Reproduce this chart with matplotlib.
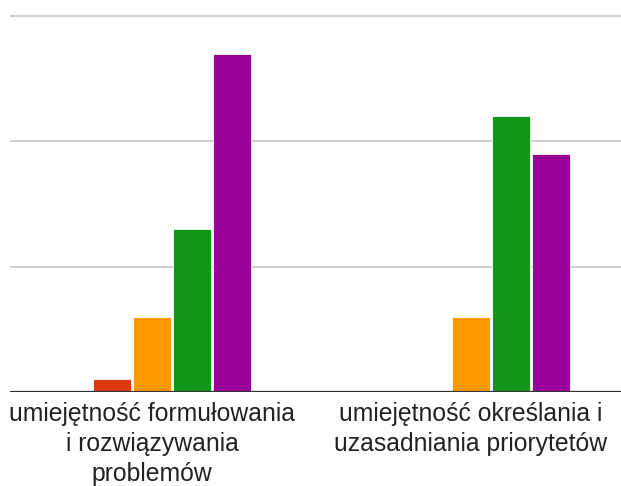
import matplotlib
matplotlib.use("Agg")
import matplotlib.pyplot as plt
import numpy as np

categories = ["umiejętność formułowania\ni rozwiązywania\nproblemów",
              "umiejętność określania i\nuzasadniania priorytetów"]
series_names = ["s1", "s2", "s3", "s4", "s5"]
series_colors = ["#3366cc", "#dc3912", "#ff9900", "#109618", "#990099"]
values = [
    [0, 0],    # blue
    [1, 0],    # red
    [6, 6],    # orange
    [13, 22],  # green
    [27, 19],  # purple
]
grid_ticks = [0, 10, 20, 30]

W, H = 621, 486
fig = plt.figure(figsize=(W / 100, H / 100), dpi=100)
left_px, right_px, top_px, base_px = 10, 621, 0, 392
ax = fig.add_axes([left_px / W, 1 - base_px / H, (right_px - left_px) / W, (base_px - top_px) / H])

px_per_cat = 319.0
xmin = -(152.0 - left_px) / px_per_cat
xmax = xmin + (right_px - left_px) / px_per_cat
ax.set_xlim(xmin, xmax)
px_per_unit = 12.525
ax.set_ylim(0, (base_px - top_px) / px_per_unit)

x = np.arange(len(categories))
period = 40 / px_per_cat
bw = 38 / px_per_cat
for i, (vals, col) in enumerate(zip(values, series_colors)):
    ax.bar(x + (i - 2) * period, vals, width=bw, color=col,
           edgecolor="white", linewidth=0.6, zorder=3)

ax.set_yticks(grid_ticks[1:])
ax.tick_params(axis="y", left=False, labelleft=False)
ax.grid(axis="y", color="#cccccc", linewidth=1.3, zorder=0)
ax.axhline(0, color="#333333", linewidth=1.6, zorder=4)
for s in ax.spines.values():
    s.set_visible(False)

ax.set_xticks(x)
ax.set_xticklabels(categories, fontsize=17.8, color="#222222",
                   family=["Liberation Sans", "DejaVu Sans"], linespacing=1.32)
ax.tick_params(axis="x", length=0, pad=7)

fig.savefig("out.png", dpi=100, facecolor="white")
